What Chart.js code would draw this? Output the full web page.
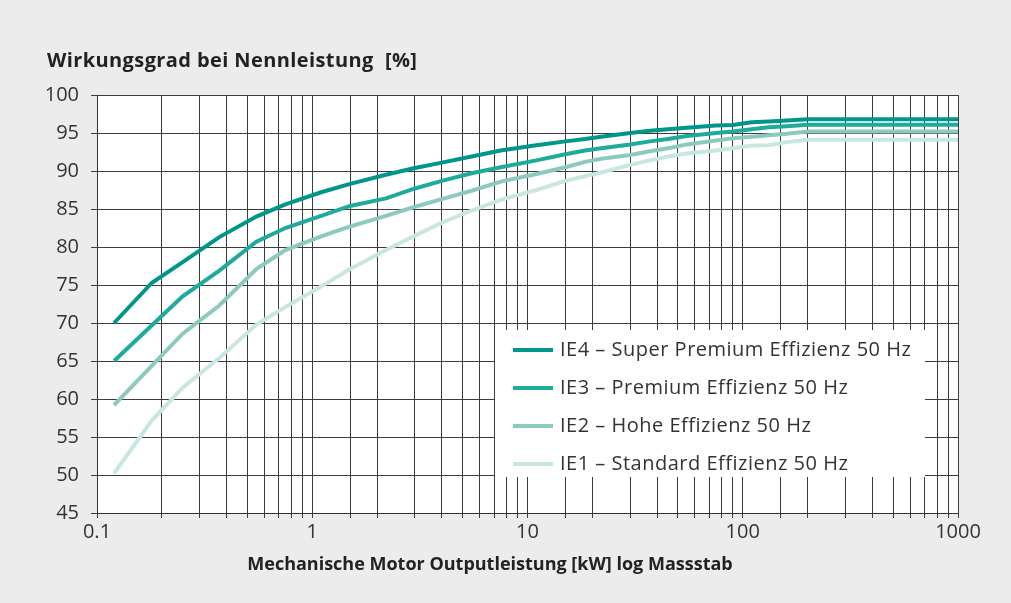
<!DOCTYPE html>
<html>
<head>
<meta charset="utf-8">
<script src="https://cdn.jsdelivr.net/npm/chart.js@4"></script>
<style>
  html, body { margin: 0; padding: 0; background: #ececec; }
  canvas { display: block; }
</style>
</head>
<body>
<canvas id="chart" width="1011" height="603"></canvas>
<script>
// Motor output power [kW] at the standard rating steps
const powerKW = [0.12, 0.18, 0.25, 0.37, 0.55, 0.75, 1.1, 1.5, 2.2, 3, 4, 5.5, 7.5, 11, 15, 18.5, 22, 30, 37, 45, 55, 75, 90, 110, 132, 160, 200, 1000];

// Efficiency at rated load [%]
const ie4 = [70.0, 75.3, 78.0, 81.3, 84.0, 85.6, 87.2, 88.3, 89.5, 90.4, 91.1, 91.9, 92.7, 93.4, 93.9, 94.2, 94.5, 95.0, 95.3, 95.5, 95.7, 96.0, 96.05, 96.4, 96.5, 96.65, 96.8, 96.8];
const ie3 = [65.0, 69.7, 73.5, 76.9, 80.7, 82.5, 84.1, 85.4, 86.4, 87.7, 88.7, 89.7, 90.5, 91.4, 92.2, 92.7, 93.0, 93.5, 93.9, 94.2, 94.6, 95.0, 95.2, 95.5, 95.75, 95.9, 96.1, 96.1];
const ie2 = [59.2, 64.4, 68.6, 72.3, 77.1, 79.6, 81.4, 82.7, 84.1, 85.3, 86.3, 87.4, 88.6, 89.6, 90.5, 91.2, 91.6, 92.1, 92.6, 93.0, 93.5, 94.0, 94.3, 94.5, 94.7, 94.9, 95.2, 95.2];
const ie1 = [50.2, 57.2, 61.5, 65.4, 69.8, 72.1, 74.8, 77.1, 79.6, 81.5, 83.2, 84.8, 86.2, 87.5, 88.7, 89.3, 89.8, 90.8, 91.4, 91.9, 92.3, 92.7, 93.0, 93.35, 93.4, 93.8, 94.1, 94.1];

const seriesLabels = [
  'IE4 \u2013 Super Premium Effizienz 50 Hz',
  'IE3 \u2013 Premium Effizienz 50 Hz',
  'IE2 \u2013 Hohe Effizienz 50 Hz',
  'IE1 \u2013 Standard Effizienz 50 Hz'
];
const seriesColors = ['#00968a', '#1fab9c', '#8ccac0', '#c9e7e2'];

const xLabelTicks = [0.1, 1, 10, 100, 1000];
const yTicks = [45, 50, 55, 60, 65, 70, 75, 80, 85, 90, 95, 100];

const chartTitle = 'Wirkungsgrad bei Nennleistung  [%]';
const xTitle = 'Mechanische Motor Outputleistung [kW] log Massstab';

const FONT = '"Open Sans", Lato, sans-serif';
const TEXT = '#333333';

const toPoints = vals => powerKW.map((x, i) => ({ x: x, y: vals[i] }));

const datasets = [ie4, ie3, ie2, ie1].map((vals, i) => ({
  label: seriesLabels[i],
  data: toPoints(vals),
  borderColor: seriesColors[i],
  backgroundColor: seriesColors[i],
  borderWidth: 4,
  pointRadius: 0,
  tension: 0,
  fill: false
})).reverse(); // lighter curves underneath

// Grey page with white plotting area
const backdrop = {
  id: 'backdrop',
  beforeDraw(chart) {
    const { ctx, chartArea: a } = chart;
    ctx.save();
    ctx.fillStyle = '#ececec';
    ctx.fillRect(0, 0, chart.width, chart.height);
    ctx.fillStyle = '#ffffff';
    ctx.fillRect(a.left, a.top, a.right - a.left, a.bottom - a.top);
    ctx.restore();
  }
};

// Heading above the y axis and caption under the x axis
const captions = {
  id: 'captions',
  afterDraw(chart) {
    const ctx = chart.ctx;
    ctx.save();
    ctx.fillStyle = '#222222';
    ctx.textBaseline = 'middle';
    ctx.font = '700 20px ' + FONT;
    ctx.letterSpacing = '0.4px';
    ctx.textAlign = 'left';
    ctx.fillText(chartTitle, 47, 61);
    ctx.font = '700 18px ' + FONT;
    ctx.letterSpacing = '0px';
    ctx.textAlign = 'center';
    ctx.fillText(xTitle, 490, 565);
    ctx.restore();
  }
};

// Boxed legend inside the plot
const boxLegend = {
  id: 'boxLegend',
  afterDatasetsDraw(chart) {
    const ctx = chart.ctx;
    const box = { x: 495, y: 330, w: 430, h: 147 };
    ctx.save();
    ctx.fillStyle = '#ffffff';
    ctx.fillRect(box.x, box.y, box.w, box.h);
    ctx.font = '20px ' + FONT;
    ctx.letterSpacing = '0.5px';
    ctx.textAlign = 'left';
    ctx.textBaseline = 'middle';
    seriesLabels.forEach((label, i) => {
      const y = 350 + i * 38;
      ctx.strokeStyle = seriesColors[i];
      ctx.lineWidth = 4;
      ctx.beginPath();
      ctx.moveTo(513, y);
      ctx.lineTo(553, y);
      ctx.stroke();
      ctx.fillStyle = TEXT;
      ctx.fillText(label, 560, y);
    });
    ctx.restore();
  }
};

const isDecade = v => Math.abs(Math.log10(v) - Math.round(Math.log10(v))) < 1e-6;

new Chart(document.getElementById('chart'), {
  type: 'line',
  data: { datasets: datasets },
  plugins: [backdrop, captions, boxLegend],
  options: {
    responsive: false,
    animation: false,
    layout: { padding: { left: 0, top: 95, right: 53, bottom: 0 } },
    plugins: {
      legend: { display: false },
      tooltip: { enabled: false }
    },
    scales: {
      x: {
        type: 'logarithmic',
        min: 0.1,
        max: 1000,
        afterFit(scale) { scale.height = 90; },
        border: { display: true, color: '#333333', width: 1 },
        grid: { color: '#3c3c3c', lineWidth: 1, tickLength: 5, drawTicks: true },
        ticks: {
          autoSkip: false,
          maxRotation: 0,
          padding: 2,
          color: TEXT,
          font: { family: FONT, size: 20 },
          callback(value) {
            const hit = xLabelTicks.find(t => Math.abs(t - value) / t < 1e-6);
            return hit !== undefined && isDecade(value) ? String(hit) : '';
          }
        }
      },
      y: {
        min: 45,
        max: 100,
        afterFit(scale) { scale.width = 97; },
        afterBuildTicks(scale) { scale.ticks = yTicks.map(v => ({ value: v })); },
        border: { display: true, color: '#333333', width: 1 },
        grid: { color: '#3c3c3c', lineWidth: 1, tickLength: 6 },
        ticks: {
          padding: 12,
          color: TEXT,
          font: { family: FONT, size: 20 }
        }
      }
    }
  }
});
</script>
</body>
</html>
